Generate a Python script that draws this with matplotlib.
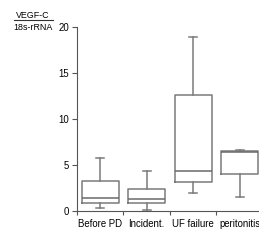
import matplotlib
matplotlib.use("Agg")
import matplotlib.pyplot as plt
from matplotlib.lines import Line2D

plt.rcParams['font.family'] = ['Liberation Sans', 'DejaVu Sans']

groupes = ["Before PD", "Incident.", "UF failure", "peritonitis"]
# valeurs (whisker bas, Q1, mediane, Q3, whisker haut)
wlo = [0.3, 0.15, 2.0, 1.5]
q1 = [0.9, 0.87, 3.1, 4.0]
med = [1.38, 1.3, 4.4, 6.4]
q3 = [3.3, 2.4, 12.6, 6.5]
whi = [5.8, 4.4, 18.9, 6.6]

stats = []
for i in range(len(groupes)):
    stats.append({'whislo': wlo[i], 'q1': q1[i], 'med': med[i],
                  'q3': q3[i], 'whishi': whi[i], 'fliers': []})

fig = plt.figure(figsize=(2.59, 2.44), dpi=100)
ax = fig.add_axes([0.2973, 0.1352, 0.718, 0.754])

gris = '#7a7a7a'
ax.bxp(stats, positions=[1, 2, 3, 4], widths=0.8, showfliers=False,
       boxprops=dict(color=gris, linewidth=1.1),
       medianprops=dict(color='#6a6a6a', linewidth=1.1),
       whiskerprops=dict(color=gris, linewidth=1.1),
       capprops=dict(color=gris, linewidth=1.1),
       capwidths=0.18)

ax.set_xlim(0.5, 4.5)
ax.set_ylim(0, 20)
ax.set_yticks([0, 5, 10, 15, 20])
ax.set_xticks([0.5, 1.5, 2.5, 3.5, 4.5])
ax.set_xticklabels([])
ax.set_xticks([1, 2, 3, 4], minor=True)
ax.set_xticklabels(groupes, minor=True)
ax.tick_params(axis='x', which='minor', length=0, pad=6, labelsize=6.9)
ax.tick_params(axis='x', which='major', length=3, width=0.8, color='#555555')
ax.tick_params(axis='y', length=3.5, width=0.8, color='#555555', labelsize=6.9, pad=2)

for s in ['top', 'right']:
    ax.spines[s].set_visible(False)
for s in ['left', 'bottom']:
    ax.spines[s].set_color('#555555')
    ax.spines[s].set_linewidth(0.8)

# label de l'axe y en fraction
fig.text(33 / 259, 1 - 17.5 / 244, "VEGF-C", ha='center', va='baseline', fontsize=6.4)
fig.text(33 / 259, 1 - 30.5 / 244, "18s-rRNA", ha='center', va='baseline', fontsize=6.4)
fig.add_artist(Line2D([14 / 259, 53 / 259], [1 - 19.8 / 244, 1 - 19.8 / 244],
                      color='#333333', linewidth=0.8))

fig.savefig("out.png", dpi=100)
